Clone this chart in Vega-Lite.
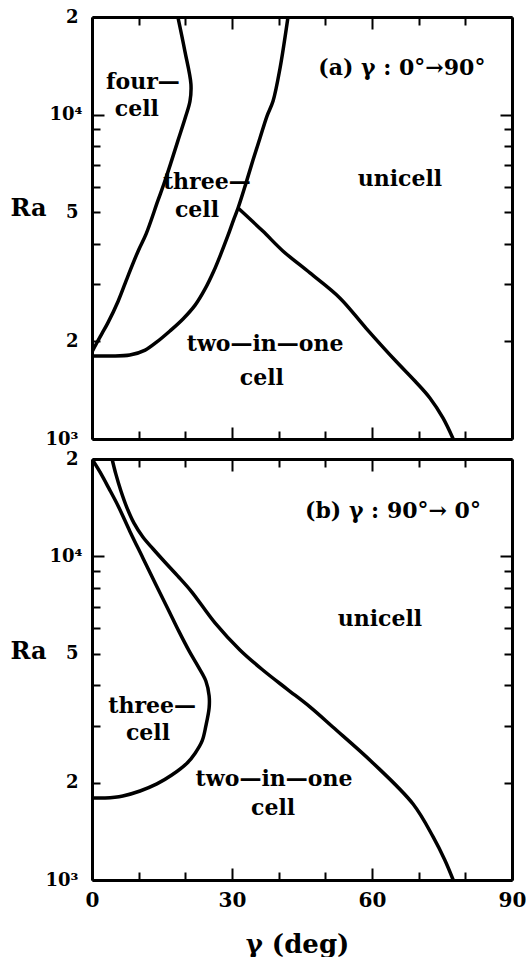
{
  "$schema": "https://vega.github.io/schema/vega-lite/v6.json",
  "background": "white",
  "padding": {"left": 10, "top": 8, "right": 0, "bottom": 0},
  "spacing": 20,
  "bounds": "flush",
  "config": {
    "view": {"stroke": null},
    "font": "DejaVu Serif",
    "axis": {
      "grid": false,
      "domainColor": "black",
      "domainWidth": 3,
      "tickColor": "black",
      "tickWidth": 2,
      "tickSize": -8,
      "labelColor": "black",
      "labelFont": "DejaVu Serif",
      "labelFontWeight": "bold",
      "labelFontSize": 18,
      "labelOverlap": false,
      "labelFlush": false,
      "titleColor": "black",
      "titleFont": "DejaVu Serif",
      "titleFontWeight": "bold",
      "titleFontSize": 24
    }
  },
  "datasets": {
    "curves": [
      {"panel": "a", "curve": "a1", "i": 0, "g": 18.4, "Ra": 20000},
      {"panel": "a", "curve": "a1", "i": 1, "g": 19.9, "Ra": 15700},
      {"panel": "a", "curve": "a1", "i": 2, "g": 21.2, "Ra": 12420},
      {"panel": "a", "curve": "a1", "i": 3, "g": 21.0, "Ra": 11020},
      {"panel": "a", "curve": "a1", "i": 4, "g": 20.1, "Ra": 9900},
      {"panel": "a", "curve": "a1", "i": 5, "g": 18.4, "Ra": 8300},
      {"panel": "a", "curve": "a1", "i": 6, "g": 16.9, "Ra": 7100},
      {"panel": "a", "curve": "a1", "i": 7, "g": 15.4, "Ra": 6110},
      {"panel": "a", "curve": "a1", "i": 8, "g": 14.1, "Ra": 5420},
      {"panel": "a", "curve": "a1", "i": 9, "g": 11.6, "Ra": 4290},
      {"panel": "a", "curve": "a1", "i": 10, "g": 9.9, "Ra": 3800},
      {"panel": "a", "curve": "a1", "i": 11, "g": 7.7, "Ra": 3180},
      {"panel": "a", "curve": "a1", "i": 12, "g": 5.6, "Ra": 2660},
      {"panel": "a", "curve": "a1", "i": 13, "g": 3.4, "Ra": 2280},
      {"panel": "a", "curve": "a1", "i": 14, "g": 2.1, "Ra": 2110},
      {"panel": "a", "curve": "a1", "i": 15, "g": 0.9, "Ra": 1963},
      {"panel": "a", "curve": "a1", "i": 16, "g": 0, "Ra": 1855},

      {"panel": "a", "curve": "a2", "i": 0, "g": 0, "Ra": 1803},
      {"panel": "a", "curve": "a2", "i": 1, "g": 3.9, "Ra": 1803},
      {"panel": "a", "curve": "a2", "i": 2, "g": 8.1, "Ra": 1815},
      {"panel": "a", "curve": "a2", "i": 3, "g": 11.4, "Ra": 1880},
      {"panel": "a", "curve": "a2", "i": 4, "g": 13.9, "Ra": 1992},
      {"panel": "a", "curve": "a2", "i": 5, "g": 16.7, "Ra": 2153},
      {"panel": "a", "curve": "a2", "i": 6, "g": 19.5, "Ra": 2345},
      {"panel": "a", "curve": "a2", "i": 7, "g": 22.1, "Ra": 2587},
      {"panel": "a", "curve": "a2", "i": 8, "g": 24.2, "Ra": 2897},
      {"panel": "a", "curve": "a2", "i": 9, "g": 26.1, "Ra": 3296},
      {"panel": "a", "curve": "a2", "i": 10, "g": 27.6, "Ra": 3716},
      {"panel": "a", "curve": "a2", "i": 11, "g": 29.1, "Ra": 4226},
      {"panel": "a", "curve": "a2", "i": 12, "g": 30.4, "Ra": 4764},
      {"panel": "a", "curve": "a2", "i": 13, "g": 31.3, "Ra": 5153},
      {"panel": "a", "curve": "a2", "i": 14, "g": 33.0, "Ra": 6150},
      {"panel": "a", "curve": "a2", "i": 15, "g": 34.5, "Ra": 7245},
      {"panel": "a", "curve": "a2", "i": 16, "g": 36.0, "Ra": 8470},
      {"panel": "a", "curve": "a2", "i": 17, "g": 37.5, "Ra": 9900},
      {"panel": "a", "curve": "a2", "i": 18, "g": 38.8, "Ra": 11020},
      {"panel": "a", "curve": "a2", "i": 19, "g": 40.3, "Ra": 13930},
      {"panel": "a", "curve": "a2", "i": 20, "g": 42.0, "Ra": 20000},

      {"panel": "a", "curve": "a3", "i": 0, "g": 31.3, "Ra": 5153},
      {"panel": "a", "curve": "a3", "i": 1, "g": 36.6, "Ra": 4375},
      {"panel": "a", "curve": "a3", "i": 2, "g": 40.9, "Ra": 3800},
      {"panel": "a", "curve": "a3", "i": 3, "g": 46.7, "Ra": 3250},
      {"panel": "a", "curve": "a3", "i": 4, "g": 53.1, "Ra": 2722},
      {"panel": "a", "curve": "a3", "i": 5, "g": 58.7, "Ra": 2198},
      {"panel": "a", "curve": "a3", "i": 6, "g": 65.1, "Ra": 1739},
      {"panel": "a", "curve": "a3", "i": 7, "g": 69.2, "Ra": 1509},
      {"panel": "a", "curve": "a3", "i": 8, "g": 72.4, "Ra": 1338},
      {"panel": "a", "curve": "a3", "i": 9, "g": 75.2, "Ra": 1161},
      {"panel": "a", "curve": "a3", "i": 10, "g": 77.4, "Ra": 1000},

      {"panel": "b", "curve": "b1", "i": 0, "g": 0, "Ra": 20000},
      {"panel": "b", "curve": "b1", "i": 1, "g": 1.7, "Ra": 18240},
      {"panel": "b", "curve": "b1", "i": 2, "g": 3.6, "Ra": 16250},
      {"panel": "b", "curve": "b1", "i": 3, "g": 5.6, "Ra": 14320},
      {"panel": "b", "curve": "b1", "i": 4, "g": 8.1, "Ra": 11970},
      {"panel": "b", "curve": "b1", "i": 5, "g": 10.9, "Ra": 9890},
      {"panel": "b", "curve": "b1", "i": 6, "g": 13.7, "Ra": 8170},
      {"panel": "b", "curve": "b1", "i": 7, "g": 16.3, "Ra": 6870},
      {"panel": "b", "curve": "b1", "i": 8, "g": 18.6, "Ra": 5875},
      {"panel": "b", "curve": "b1", "i": 9, "g": 20.8, "Ra": 5107},
      {"panel": "b", "curve": "b1", "i": 10, "g": 22.7, "Ra": 4580},
      {"panel": "b", "curve": "b1", "i": 11, "g": 24.4, "Ra": 4121},
      {"panel": "b", "curve": "b1", "i": 12, "g": 25.1, "Ra": 3706},
      {"panel": "b", "curve": "b1", "i": 13, "g": 25.1, "Ra": 3403},
      {"panel": "b", "curve": "b1", "i": 14, "g": 24.4, "Ra": 2993},
      {"panel": "b", "curve": "b1", "i": 15, "g": 23.6, "Ra": 2690},
      {"panel": "b", "curve": "b1", "i": 16, "g": 22.1, "Ra": 2466},
      {"panel": "b", "curve": "b1", "i": 17, "g": 20.4, "Ra": 2300},
      {"panel": "b", "curve": "b1", "i": 18, "g": 17.1, "Ra": 2110},
      {"panel": "b", "curve": "b1", "i": 19, "g": 13.9, "Ra": 1981},
      {"panel": "b", "curve": "b1", "i": 20, "g": 10.3, "Ra": 1884},
      {"panel": "b", "curve": "b1", "i": 21, "g": 6.6, "Ra": 1819},
      {"panel": "b", "curve": "b1", "i": 22, "g": 2.8, "Ra": 1793},
      {"panel": "b", "curve": "b1", "i": 23, "g": 0, "Ra": 1793},

      {"panel": "b", "curve": "b2", "i": 0, "g": 4.3, "Ra": 20000},
      {"panel": "b", "curve": "b2", "i": 1, "g": 5.1, "Ra": 17990},
      {"panel": "b", "curve": "b2", "i": 2, "g": 6.2, "Ra": 15930},
      {"panel": "b", "curve": "b2", "i": 3, "g": 7.5, "Ra": 14130},
      {"panel": "b", "curve": "b2", "i": 4, "g": 9.0, "Ra": 12670},
      {"panel": "b", "curve": "b2", "i": 5, "g": 10.9, "Ra": 11480},
      {"panel": "b", "curve": "b2", "i": 6, "g": 13.1, "Ra": 10540},
      {"panel": "b", "curve": "b2", "i": 7, "g": 15.6, "Ra": 9610},
      {"panel": "b", "curve": "b2", "i": 8, "g": 18.4, "Ra": 8690},
      {"panel": "b", "curve": "b2", "i": 9, "g": 21.4, "Ra": 7760},
      {"panel": "b", "curve": "b2", "i": 10, "g": 26.4, "Ra": 6220},
      {"panel": "b", "curve": "b2", "i": 11, "g": 31.7, "Ra": 5140},
      {"panel": "b", "curve": "b2", "i": 12, "g": 36.6, "Ra": 4456},
      {"panel": "b", "curve": "b2", "i": 13, "g": 41.8, "Ra": 3890},
      {"panel": "b", "curve": "b2", "i": 14, "g": 46.7, "Ra": 3427},
      {"panel": "b", "curve": "b2", "i": 15, "g": 51.6, "Ra": 2970},
      {"panel": "b", "curve": "b2", "i": 16, "g": 60.2, "Ra": 2300},
      {"panel": "b", "curve": "b2", "i": 17, "g": 68.8, "Ra": 1717},
      {"panel": "b", "curve": "b2", "i": 18, "g": 73.1, "Ra": 1359},
      {"panel": "b", "curve": "b2", "i": 19, "g": 75.6, "Ra": 1153},
      {"panel": "b", "curve": "b2", "i": 20, "g": 77.4, "Ra": 1000}
    ],
    "labels": [
      {"panel": "a", "g": 10.9, "Ra": 12590, "t": "four—"},
      {"panel": "a", "g": 9.6, "Ra": 10400, "t": "cell"},
      {"panel": "a", "g": 24.6, "Ra": 6190, "t": "three—"},
      {"panel": "a", "g": 22.5, "Ra": 5080, "t": "cell"},
      {"panel": "a", "g": 37.1, "Ra": 1963, "t": "two—in—one"},
      {"panel": "a", "g": 36.4, "Ra": 1542, "t": "cell"},
      {"panel": "a", "g": 66.0, "Ra": 6320, "t": "unicell"},
      {"panel": "a", "g": 66.4, "Ra": 13930, "t": "(a)  γ : 0°→90°"},
      {"panel": "b", "g": 64.5, "Ra": 13800, "t": "(b)  γ : 90°→ 0°"},
      {"panel": "b", "g": 61.7, "Ra": 6410, "t": "unicell"},
      {"panel": "b", "g": 12.9, "Ra": 3450, "t": "three—"},
      {"panel": "b", "g": 12.0, "Ra": 2845, "t": "cell"},
      {"panel": "b", "g": 39.0, "Ra": 2050, "t": "two—in—one"},
      {"panel": "b", "g": 38.8, "Ra": 1668, "t": "cell"}
    ]
  },
  "vconcat": [
    {
      "width": 420,
      "height": 422,
      "resolve": {"axis": {"x": "independent", "y": "independent"}},
      "layer": [
        {
          "data": {"name": "curves"},
          "transform": [{"filter": "datum.panel == 'a'"}],
          "mark": {"type": "line", "color": "black", "strokeWidth": 3.5, "interpolate": "catmull-rom", "clip": true},
          "encoding": {
            "x": {"field": "g", "type": "quantitative",
              "scale": {"domain": [0, 90], "nice": false, "zero": false},
              "axis": {"orient": "bottom", "values": [0, 10, 20, 30, 40, 50, 60, 70, 80, 90], "labels": false, "title": null,
                "tickSize": {"condition": {"test": "datum.value % 30 == 0", "value": -12}, "value": -8}}},
            "y": {"field": "Ra", "type": "quantitative",
              "scale": {"type": "log", "domain": [1000, 20000], "nice": false},
              "axis": {"orient": "left",
                "values": [1000, 2000, 3000, 4000, 5000, 6000, 7000, 8000, 9000, 10000, 20000],
                "labelExpr": "datum.value == 1000 ? '10³' : (datum.value == 2000 || datum.value == 20000) ? '2' : datum.value == 5000 ? '5' : datum.value == 10000 ? '10⁴' : ''",
                "tickSize": {"condition": {"test": "datum.value == 10000", "value": -12}, "value": -8},
                "labelPadding": 22,
                "title": "Ra", "titleAngle": 0, "titleAlign": "left", "titleBaseline": "middle",
                "titleX": -82, "titleY": 191}},
            "detail": {"field": "curve"},
            "order": {"field": "i", "type": "quantitative"}
          }
        },
        {
          "data": {"name": "labels"},
          "transform": [{"filter": "datum.panel == 'a'"}],
          "mark": {"type": "text", "font": "DejaVu Serif", "fontWeight": "bold", "fontSize": 22, "color": "black", "align": "center", "baseline": "middle"},
          "encoding": {
            "x": {"field": "g", "type": "quantitative",
              "scale": {"domain": [0, 90], "nice": false, "zero": false},
              "axis": {"orient": "top", "values": [0, 10, 20, 30, 40, 50, 60, 70, 80, 90], "labels": false, "title": null,
                "tickSize": {"condition": {"test": "datum.value % 30 == 0", "value": -12}, "value": -8}}},
            "y": {"field": "Ra", "type": "quantitative",
              "scale": {"type": "log", "domain": [1000, 20000], "nice": false},
              "axis": {"orient": "right", "values": [1000, 2000, 3000, 4000, 5000, 6000, 7000, 8000, 9000, 10000, 20000], "labels": false, "title": null,
                "tickSize": {"condition": {"test": "datum.value == 10000", "value": -12}, "value": -8}}},
            "text": {"field": "t", "type": "nominal"}
          }
        }
      ]
    },
    {
      "width": 420,
      "height": 421,
      "resolve": {"axis": {"x": "independent", "y": "independent"}},
      "layer": [
        {
          "data": {"name": "curves"},
          "transform": [{"filter": "datum.panel == 'b'"}],
          "mark": {"type": "line", "color": "black", "strokeWidth": 3.5, "interpolate": "catmull-rom", "clip": true},
          "encoding": {
            "x": {"field": "g", "type": "quantitative",
              "scale": {"domain": [0, 90], "nice": false, "zero": false},
              "axis": {"orient": "bottom", "values": [0, 10, 20, 30, 40, 50, 60, 70, 80, 90],
                "labelExpr": "datum.value % 30 == 0 ? datum.label : ''",
                "tickSize": {"condition": {"test": "datum.value % 30 == 0", "value": -12}, "value": -8},
                "labelFontSize": 20, "labelPadding": 22,
                "title": "γ (deg)", "titleFontSize": 26, "titleX": 205, "titleY": 64, "titleBaseline": "middle", "titleAlign": "center"}},
            "y": {"field": "Ra", "type": "quantitative",
              "scale": {"type": "log", "domain": [1000, 20000], "nice": false},
              "axis": {"orient": "left",
                "values": [1000, 2000, 3000, 4000, 5000, 6000, 7000, 8000, 9000, 10000, 20000],
                "labelExpr": "datum.value == 1000 ? '10³' : (datum.value == 2000 || datum.value == 20000) ? '2' : datum.value == 5000 ? '5' : datum.value == 10000 ? '10⁴' : ''",
                "tickSize": {"condition": {"test": "datum.value == 10000", "value": -12}, "value": -8},
                "labelPadding": 22,
                "title": "Ra", "titleAngle": 0, "titleAlign": "left", "titleBaseline": "middle",
                "titleX": -82, "titleY": 192}},
            "detail": {"field": "curve"},
            "order": {"field": "i", "type": "quantitative"}
          }
        },
        {
          "data": {"name": "labels"},
          "transform": [{"filter": "datum.panel == 'b'"}],
          "mark": {"type": "text", "font": "DejaVu Serif", "fontWeight": "bold", "fontSize": 22, "color": "black", "align": "center", "baseline": "middle"},
          "encoding": {
            "x": {"field": "g", "type": "quantitative",
              "scale": {"domain": [0, 90], "nice": false, "zero": false},
              "axis": {"orient": "top", "values": [0, 10, 20, 30, 40, 50, 60, 70, 80, 90], "labels": false, "title": null,
                "tickSize": {"condition": {"test": "datum.value % 30 == 0", "value": -12}, "value": -8}}},
            "y": {"field": "Ra", "type": "quantitative",
              "scale": {"type": "log", "domain": [1000, 20000], "nice": false},
              "axis": {"orient": "right", "values": [1000, 2000, 3000, 4000, 5000, 6000, 7000, 8000, 9000, 10000, 20000], "labels": false, "title": null,
                "tickSize": {"condition": {"test": "datum.value == 10000", "value": -12}, "value": -8}}},
            "text": {"field": "t", "type": "nominal"}
          }
        }
      ]
    }
  ]
}
